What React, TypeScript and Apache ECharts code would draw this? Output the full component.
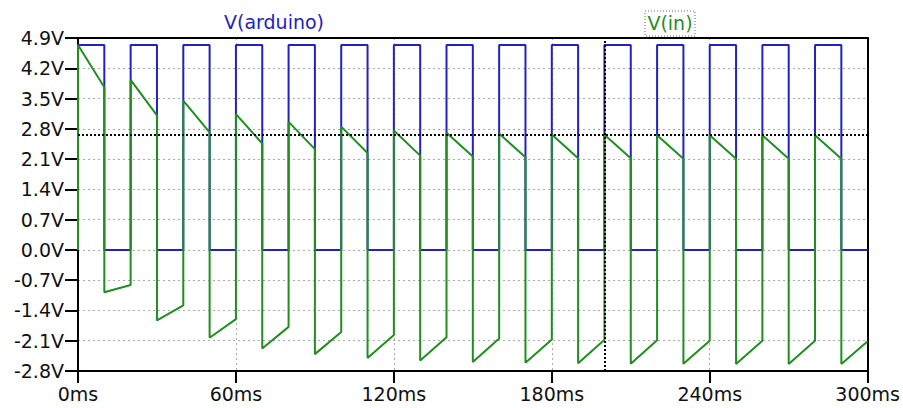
import React, { useEffect, useRef } from "react";
import * as echarts from "echarts";

// Square-wave source V(arduino)
const arduinoHighV = 4.74;
const arduinoLowV = 0.0;
const pulseStartsMs = [0, 20, 40, 60, 80, 100, 120, 140, 160, 180, 200, 220, 240, 260, 280];
const pulseWidthMs = 10;
const endTimeMs = 300;

// V(in): value at the start / end of each high and low half-period
const vinHighStart = [4.74, 3.93, 3.45, 3.14, 2.96, 2.85, 2.76, 2.71, 2.69, 2.67, 2.66, 2.65, 2.65, 2.65, 2.65];
const vinHighEnd = [3.76, 3.11, 2.72, 2.46, 2.33, 2.24, 2.18, 2.16, 2.14, 2.12, 2.12, 2.11, 2.11, 2.11, 2.11];
const vinLowStart = [-0.98, -1.63, -2.03, -2.28, -2.41, -2.5, -2.56, -2.59, -2.61, -2.62, -2.63, -2.63, -2.64, -2.64, -2.64];
const vinLowEnd = [-0.81, -1.28, -1.6, -1.78, -1.9, -1.97, -2.02, -2.05, -2.07, -2.08, -2.09, -2.1, -2.1, -2.1, -2.11];

// Cursors
const cursorV = 2.67;
const cursorT = 200;

// Axes
const yMin = -2.8;
const yMax = 4.9;
const yStep = 0.7;
const xMin = 0;
const xMax = 300;
const xStep = 60;

const BLUE = "#2222c4";
const GREEN = "#1f8f1f";
const FONT = "DejaVu Sans";
const FS = 19;

export default function App() {
  const ref = useRef<HTMLDivElement>(null);

  useEffect(() => {
    const chart = echarts.init(ref.current!, null, { renderer: "svg" });

    const arduino: [number, number][] = [[0, arduinoLowV]];
    pulseStartsMs.forEach((t) => {
      arduino.push([t, arduinoLowV], [t, arduinoHighV], [t + pulseWidthMs, arduinoHighV], [t + pulseWidthMs, arduinoLowV]);
    });
    arduino.push([endTimeMs, arduinoLowV]);

    const vin: [number, number][] = [[0, 0]];
    pulseStartsMs.forEach((t, i) => {
      vin.push(
        [t, vinHighStart[i]],
        [t + pulseWidthMs, vinHighEnd[i]],
        [t + pulseWidthMs, vinLowStart[i]],
        [t + 2 * pulseWidthMs, vinLowEnd[i]]
      );
    });

    const fmtV = (v: number) => (Math.abs(v) < 1e-9 ? 0 : v).toFixed(1) + "V";
    const frameAxis = {
      axisLine: { show: true, onZero: false, lineStyle: { color: "#000", width: 2 } },
      axisTick: { show: false },
      axisLabel: { show: false },
      splitLine: { show: false },
    };

    chart.setOption({
      animation: false,
      backgroundColor: "#ffffff",
      grid: {
        left: 78,
        right: 35,
        top: 38,
        bottom: 37,
        show: false,
      },
      xAxis: [
        {
          type: "value",
          min: xMin,
          max: xMax,
          interval: xStep,
          axisLine: { show: true, onZero: false, lineStyle: { color: "#000", width: 2 } },
          axisTick: { show: true, length: 12, lineStyle: { color: "#000", width: 2 } },
          axisLabel: {
            margin: 13,
            color: "#111",
            fontFamily: FONT,
            fontSize: FS,
            formatter: (v: number) => v + "ms",
          },
          splitLine: { show: true, lineStyle: { color: "#aaa", type: [2, 3], width: 1 } },
        },
        { type: "value", position: "top", min: xMin, max: xMax, interval: xStep, ...frameAxis },
      ],
      yAxis: [
        {
          type: "value",
          min: yMin,
          max: yMax,
          interval: yStep,
          axisLine: { show: true, onZero: false, lineStyle: { color: "#000", width: 2 } },
          axisTick: { show: true, length: 13, lineStyle: { color: "#000", width: 2 } },
          axisLabel: {
            margin: 14,
            color: "#111",
            fontFamily: FONT,
            fontSize: FS,
            formatter: fmtV,
          },
          splitLine: { show: true, lineStyle: { color: "#aaa", type: [2, 3], width: 1 } },
        },
        { type: "value", position: "right", min: yMin, max: yMax, interval: yStep, ...frameAxis },
      ],
      series: [
        {
          name: "V(arduino)",
          type: "line",
          data: arduino,
          showSymbol: false,
          lineStyle: { color: BLUE, width: 2 },
          itemStyle: { color: BLUE },
        },
        {
          name: "V(in)",
          type: "line",
          data: vin,
          showSymbol: false,
          lineStyle: { color: GREEN, width: 2 },
          itemStyle: { color: GREEN },
          markLine: {
            silent: true,
            symbol: "none",
            label: { show: false },
            lineStyle: { color: "#000", type: [2, 2], width: 2 },
            data: [{ yAxis: cursorV }, { xAxis: cursorT }],
          },
        },
      ],
      graphic: [
        {
          type: "text",
          x: 274,
          y: 22,
          style: {
            text: "V(arduino)",
            fill: BLUE,
            font: `${FS}px "${FONT}"`,
            align: "center",
            verticalAlign: "middle",
          },
        },
        {
          type: "rect",
          shape: { x: 645, y: 11, width: 50, height: 25 },
          style: { fill: "none", stroke: "#666", lineWidth: 1, lineDash: [1, 2] },
        },
        {
          type: "text",
          x: 670,
          y: 23,
          style: {
            text: "V(in)",
            fill: GREEN,
            font: `${FS}px "${FONT}"`,
            align: "center",
            verticalAlign: "middle",
          },
        },
      ],
    });

    return () => chart.dispose();
  }, []);

  return (
    <div
      ref={ref}
      style={{ position: "fixed", left: 0, top: 0, width: 903, height: 408 }}
    />
  );
}
